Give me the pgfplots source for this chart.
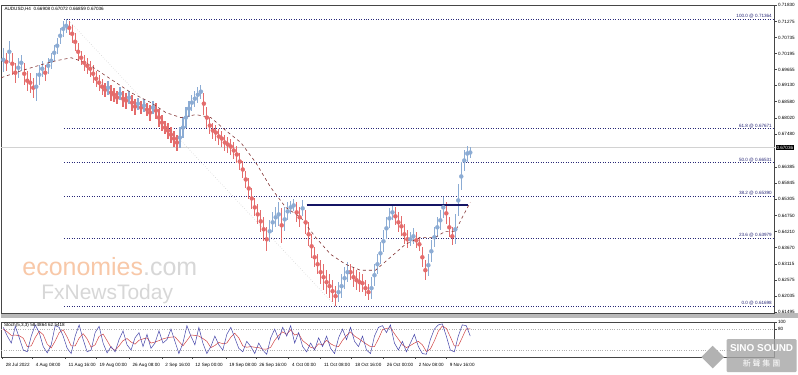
\documentclass[border=0pt]{standalone}
\usepackage{pgfplots}
\pgfplotsset{compat=1.18}
\usepackage{fontspec}
\setmainfont{Liberation Sans}
\newfontfamily\cjk{Noto Sans CJK TC}
\definecolor{bear}{RGB}{228,108,108}
\definecolor{bull}{RGB}{140,172,212}
\definecolor{fibc}{RGB}{40,40,120}
\definecolor{navyl}{RGB}{20,20,100}
\definecolor{mac}{RGB}{130,50,50}
\definecolor{axc}{RGB}{70,70,70}
\definecolor{wmorange}{RGB}{248,200,168}
\definecolor{wmgray}{RGB}{215,215,215}
\definecolor{stmain}{RGB}{70,70,170}
\definecolor{stsig}{RGB}{210,70,70}
\newcommand\tf{\fontsize{4.6}{5.5}\selectfont}
\begin{document}
\begin{tikzpicture}[x=1pt,y=1pt]
\fill[white] (0,0) rectangle (798,372);
% watermark
\node[anchor=base west, inner sep=0, font=\fontsize{25}{25}\selectfont] at (21,99) {\textcolor{wmorange}{economies}\textcolor{wmgray}{.com}};
\node[anchor=base west, inner sep=0, font=\fontsize{21}{21}\selectfont] at (40,75) {\textcolor{wmgray}{FxNewsToday}};
% separator
\fill[gray!55] (0,56) rectangle (798,61);
\begin{axis}[at={(0pt,61pt)}, anchor=south west, scale only axis, width=775pt, height=308.9pt,
  xmin=0, xmax=775, ymin=0.61463, ymax=0.71830, clip=false,
  axis line style={axc, line width=0.6pt},
  xtick=\empty,
  ytick={0.71830,0.71275,0.70735,0.70195,0.69655,0.69130,0.68580,0.68020,0.67480,0.66385,0.65845,0.65305,0.64750,0.64210,0.63670,0.63115,0.62575,0.62035,0.61495},
  yticklabels={0.71830,0.71275,0.70735,0.70195,0.69655,0.69130,0.68580,0.68020,0.67480,0.66385,0.65845,0.65305,0.64750,0.64210,0.63670,0.63115,0.62575,0.62035,0.61495},
  ytick pos=right, yticklabel pos=right,
  tick style={axc, line width=0.4pt}, major tick length=2pt, tick align=outside,
  yticklabel style={font=\tf, text=black, xshift=-2pt},
]
% current price line
\addplot[gray!35, line width=0.4pt] coordinates {(0,0.67036) (775,0.67036)};
% fib diagonal
\addplot[gray!45, dotted, line width=0.5pt] coordinates {(66,0.71364) (335,0.61698)};
% fib levels
\addplot[fibc, dotted, line width=0.5pt] coordinates {(63,0.71364) (775,0.71364)};
\addplot[fibc, dotted, line width=0.5pt] coordinates {(63,0.67671) (775,0.67671)};
\addplot[fibc, dotted, line width=0.5pt] coordinates {(63,0.66531) (775,0.66531)};
\addplot[fibc, dotted, line width=0.5pt] coordinates {(63,0.65390) (775,0.65390)};
\addplot[fibc, dotted, line width=0.5pt] coordinates {(63,0.63979) (775,0.63979)};
\addplot[fibc, dotted, line width=0.5pt] coordinates {(63,0.61698) (775,0.61698)};
\node[anchor=south east, inner sep=0.6pt, font=\tf, text=fibc] at (axis cs:773,0.71364) {100.0 @ 0.71364};
\node[anchor=south east, inner sep=0.6pt, font=\tf, text=fibc] at (axis cs:773,0.67671) {61.8 @ 0.67671};
\node[anchor=south east, inner sep=0.6pt, font=\tf, text=fibc] at (axis cs:773,0.66531) {50.0 @ 0.66531};
\node[anchor=south east, inner sep=0.6pt, font=\tf, text=fibc] at (axis cs:773,0.65390) {38.2 @ 0.65390};
\node[anchor=south east, inner sep=0.6pt, font=\tf, text=fibc] at (axis cs:773,0.63979) {23.6 @ 0.63979};
\node[anchor=south east, inner sep=0.6pt, font=\tf, text=fibc] at (axis cs:773,0.61698) {0.0 @ 0.61698};
% bearish bars
\addplot[bear, only marks, mark=none, error bars/.cd, y dir=both, y explicit, error mark=none,
  error bar style={draw=bear, line width=1.2pt}] coordinates {
(5,0.69920) +- (0,0.0030) (11,0.69853) +- (0,0.0037) (14,0.69551) +- (0,0.0034)
(23,0.69517) +- (0,0.0037) (26,0.69282) +- (0,0.0034) (29,0.69215) +- (0,0.0034)
(32,0.69047) +- (0,0.0034) (44,0.69551) +- (0,0.0027) (68,0.71061) +- (0,0.0023)
(71,0.70860) +- (0,0.0030) (74,0.70591) +- (0,0.0030) (77,0.70256) +- (0,0.0030)
(80,0.70054) +- (0,0.0023) (83,0.69886) +- (0,0.0027) (86,0.69786) +- (0,0.0027)
(89,0.69685) +- (0,0.0027) (92,0.69517) +- (0,0.0030) (95,0.69349) +- (0,0.0027)
(98,0.69215) +- (0,0.0027) (101,0.69081) +- (0,0.0027) (104,0.68980) +- (0,0.0023)
(110,0.68880) +- (0,0.0027) (113,0.68812) +- (0,0.0023) (116,0.68712) +- (0,0.0023)
(122,0.68678) +- (0,0.0027) (125,0.68611) +- (0,0.0027) (131,0.68544) +- (0,0.0027)
(134,0.68410) +- (0,0.0027) (140,0.68376) +- (0,0.0023) (146,0.68309) +- (0,0.0023)
(149,0.68208) +- (0,0.0027) (155,0.68275) +- (0,0.0027) (158,0.68041) +- (0,0.0030)
(161,0.67873) +- (0,0.0027) (164,0.67705) +- (0,0.0023) (167,0.67604) +- (0,0.0027)
(170,0.67470) +- (0,0.0027) (173,0.67336) +- (0,0.0027) (176,0.67202) +- (0,0.0027)
(203,0.68510) +- (0,0.0037) (206,0.68041) +- (0,0.0034) (209,0.67772) +- (0,0.0027)
(212,0.67604) +- (0,0.0027) (215,0.67537) +- (0,0.0027) (218,0.67403) +- (0,0.0027)
(221,0.67336) +- (0,0.0027) (224,0.67202) +- (0,0.0027) (227,0.67134) +- (0,0.0027)
(230,0.67067) +- (0,0.0027) (233,0.66933) +- (0,0.0027) (236,0.66799) +- (0,0.0027)
(239,0.66564) +- (0,0.0030) (242,0.66295) +- (0,0.0030) (245,0.65960) +- (0,0.0030)
(248,0.65658) +- (0,0.0034) (251,0.65322) +- (0,0.0034) (254,0.65020) +- (0,0.0030)
(257,0.64785) +- (0,0.0034) (260,0.64550) +- (0,0.0037) (263,0.64282) +- (0,0.0040)
(266,0.63946) +- (0,0.0040) (281,0.64416) +- (0,0.0060) (296,0.64852) +- (0,0.0034)
(299,0.64685) +- (0,0.0034) (305,0.64517) +- (0,0.0040) (308,0.64114) +- (0,0.0040)
(311,0.63711) +- (0,0.0040) (314,0.63342) +- (0,0.0034) (317,0.63107) +- (0,0.0034)
(320,0.62839) +- (0,0.0040) (323,0.62671) +- (0,0.0044) (326,0.62503) +- (0,0.0040)
(329,0.62369) +- (0,0.0040) (332,0.62201) +- (0,0.0037) (335,0.62033) +- (0,0.0034)
(350,0.62839) +- (0,0.0027) (353,0.62671) +- (0,0.0034) (356,0.62570) +- (0,0.0034)
(359,0.62503) +- (0,0.0034) (362,0.62470) +- (0,0.0030) (365,0.62302) +- (0,0.0027)
(368,0.62168) +- (0,0.0027) (395,0.64718) +- (0,0.0030) (398,0.64517) +- (0,0.0034)
(401,0.64383) +- (0,0.0034) (404,0.64114) +- (0,0.0034) (407,0.63946) +- (0,0.0030)
(416,0.63913) +- (0,0.0027) (419,0.63778) +- (0,0.0023) (422,0.63342) +- (0,0.0034)
(425,0.62906) +- (0,0.0034) (446,0.64819) +- (0,0.0037) (449,0.64349) +- (0,0.0034)
(452,0.64047) +- (0,0.0030)
};
% bullish bars
\addplot[bull, only marks, mark=none, error bars/.cd, y dir=both, y explicit, error mark=none,
  error bar style={draw=bull, line width=1.2pt}] coordinates {
(2,0.69987) +- (0,0.0040) (8,0.70256) +- (0,0.0037) (17,0.69719) +- (0,0.0034)
(20,0.69886) +- (0,0.0027) (35,0.69081) +- (0,0.0047) (38,0.69484) +- (0,0.0034)
(41,0.69685) +- (0,0.0027) (47,0.69786) +- (0,0.0027) (50,0.69954) +- (0,0.0027)
(53,0.70222) +- (0,0.0027) (56,0.70457) +- (0,0.0027) (59,0.70793) +- (0,0.0027)
(62,0.71027) +- (0,0.0027) (65,0.71128) +- (0,0.0023) (107,0.69047) +- (0,0.0023)
(119,0.68846) +- (0,0.0023) (128,0.68712) +- (0,0.0023) (137,0.68510) +- (0,0.0020)
(143,0.68443) +- (0,0.0023) (152,0.68376) +- (0,0.0023) (179,0.67369) +- (0,0.0034)
(182,0.67705) +- (0,0.0034) (185,0.68041) +- (0,0.0034) (188,0.68343) +- (0,0.0027)
(191,0.68544) +- (0,0.0027) (194,0.68678) +- (0,0.0027) (197,0.68812) +- (0,0.0027)
(200,0.68913) +- (0,0.0023) (269,0.64215) +- (0,0.0037) (272,0.64517) +- (0,0.0034)
(275,0.64685) +- (0,0.0034) (278,0.64785) +- (0,0.0040) (284,0.64617) +- (0,0.0040)
(287,0.64886) +- (0,0.0030) (290,0.65020) +- (0,0.0023) (293,0.65087) +- (0,0.0020)
(302,0.64987) +- (0,0.0027) (338,0.62168) +- (0,0.0034) (341,0.62369) +- (0,0.0040)
(344,0.62637) +- (0,0.0037) (347,0.62839) +- (0,0.0034) (371,0.62302) +- (0,0.0037)
(374,0.62738) +- (0,0.0037) (377,0.63107) +- (0,0.0034) (380,0.63476) +- (0,0.0037)
(383,0.63879) +- (0,0.0037) (386,0.64315) +- (0,0.0037) (389,0.64651) +- (0,0.0034)
(392,0.64852) +- (0,0.0027) (410,0.63946) +- (0,0.0023) (413,0.64047) +- (0,0.0027)
(428,0.63074) +- (0,0.0037) (431,0.63544) +- (0,0.0037) (434,0.64013) +- (0,0.0034)
(437,0.64349) +- (0,0.0034) (440,0.64584) +- (0,0.0034) (443,0.65020) +- (0,0.0034)
(455,0.64282) +- (0,0.0050) (458,0.65255) +- (0,0.0054) (461,0.66061) +- (0,0.0047)
(464,0.66598) +- (0,0.0034) (467,0.66832) +- (0,0.0027) (470,0.66866) +- (0,0.0020)
};
% moving average
\addplot[mac, dashed, line width=0.6pt] coordinates {
(0,0.69383) (20,0.69618) (40,0.69819) (55,0.69954) (70,0.70054) (85,0.69886) (100,0.69551)
(115,0.69215) (130,0.68880) (150,0.68544) (165,0.68208) (180,0.68041) (195,0.68141)
(210,0.68041) (225,0.67604) (240,0.67202) (255,0.66530) (270,0.65691) (285,0.65020)
(300,0.64685) (315,0.64013) (330,0.63443) (345,0.63107) (360,0.62906) (375,0.62906)
(390,0.63342) (405,0.63778) (420,0.64013) (435,0.64013) (445,0.64214) (455,0.64214)
(462,0.64685) (470,0.65188)};
% resistance line
\addplot[navyl, line width=1.2pt] coordinates {(306,0.65098) (468,0.65098)};
% current price box
\node[anchor=west, fill=black, text=white, inner sep=0.8pt, font=\tf] at (axis cs:776,0.67036) {0.67036};
\end{axis}
% header
\node[anchor=west, inner sep=0, font=\tf] at (3,366) {AUDUSD,H4\ \ 0.66908 0.67072 0.66859 0.67036};
% stochastic
\begin{axis}[at={(0pt,17pt)}, anchor=south west, scale only axis, width=775pt, height=35pt,
  xmin=0, xmax=775, ymin=0, ymax=100, clip=false,
  axis line style={axc, line width=0.6pt},
  xtick={1,31,64,95,128,161,191,225,255,288,320,351,383,415,446},
  xticklabels={28 Jul 2022,4 Aug 08:00,11 Aug 16:00,19 Aug 00:00,26 Aug 08:00,2 Sep 16:00,12 Sep 00:00,19 Sep 08:00,26 Sep 16:00,4 Oct 00:00,11 Oct 08:00,18 Oct 16:00,26 Oct 00:00,2 Nov 08:00,9 Nov 16:00},
  xtick pos=bottom, xticklabel style={font=\tf, anchor=north west, xshift=0pt, yshift=-1pt},
  ytick={100,80}, yticklabels={100,80}, ytick pos=right, yticklabel pos=right,
  yticklabel style={font=\tf, xshift=-2pt},
  tick style={axc, line width=0.4pt}, major tick length=2pt, tick align=outside,
]
\addplot[gray!60, dotted, line width=0.4pt] coordinates {(0,80) (775,80)};
\addplot[gray!60, dotted, line width=0.4pt] coordinates {(0,20) (775,20)};
\addplot[stsig, line width=0.5pt] coordinates {
(2,80) (6,72) (10,62) (14,63) (18,61) (22,54) (26,30) (30,32) (34,56) (38,74) (42,64) (46,37)
(50,26) (54,46) (58,70) (62,78) (66,57) (70,32) (74,32) (78,54) (82,67) (86,52) (90,28) (94,35)
(98,59) (102,66) (106,47) (110,27) (114,19) (118,32) (122,47) (126,53) (130,43) (134,37) (138,48)
(142,52) (146,55) (150,40) (154,43) (158,47) (162,52) (166,55) (170,57) (174,58) (178,45) (182,32)
(186,47) (190,63) (194,62) (198,60) (202,53) (206,45) (210,27) (214,33) (218,42) (222,38) (226,40)
(230,57) (234,68) (238,55) (242,32) (246,28) (250,30) (254,28) (258,27) (262,23) (266,23) (270,28)
(274,48) (278,62) (282,72) (286,65) (290,78) (294,63) (298,67) (302,47) (306,38) (310,28) (314,25)
(318,38) (322,35) (326,48) (330,38) (334,32) (338,30) (342,48) (346,62) (350,72) (354,60) (358,53)
(362,45) (366,37) (370,30) (374,30) (378,52) (382,78) (386,82) (390,84) (394,67) (398,51) (402,35)
(406,27) (410,33) (414,40) (418,45) (422,35) (426,16) (430,23) (434,46) (438,74) (442,89) (446,82)
(450,58) (454,32) (458,32) (462,56) (466,81) (470,81)};
\addplot[stmain, line width=0.5pt] coordinates {
(2,85) (6,60) (10,40) (14,88) (18,55) (22,20) (26,15) (30,60) (34,92) (38,70) (42,30) (46,12)
(50,35) (54,90) (58,85) (62,60) (66,25) (70,10) (74,60) (78,92) (82,50) (86,15) (90,20) (94,70)
(98,88) (102,40) (106,12) (110,30) (114,15) (118,50) (122,75) (126,35) (130,20) (134,55) (138,70)
(142,30) (146,65) (150,25) (154,40) (158,75) (162,40) (166,50) (170,80) (174,45) (178,10) (182,40)
(186,90) (190,60) (194,35) (198,85) (202,40) (206,10) (210,30) (214,60) (218,35) (222,20) (226,65)
(230,85) (234,55) (238,25) (242,15) (246,45) (250,30) (254,10) (258,40) (262,20) (266,8) (270,55)
(274,80) (278,50) (282,85) (286,60) (290,90) (294,40) (298,70) (302,30) (306,15) (310,40) (314,20)
(318,55) (322,30) (326,60) (330,25) (334,10) (338,55) (342,80) (346,50) (350,85) (354,45) (358,30)
(362,60) (366,20) (370,10) (374,60) (378,85) (382,90) (386,70) (390,92) (394,40) (398,20) (402,45)
(406,15) (410,40) (414,65) (418,30) (422,10) (426,8) (430,50) (434,80) (438,92) (442,95) (446,60)
(450,20) (454,15) (458,60) (462,92) (466,90) (470,60)};
\node[anchor=north west, inner sep=0.5pt, font=\tf] at (axis cs:2,100) {Stoch(5,3,3) 58.4864 62.5418};
\end{axis}
% logo
\fill[gray!70, opacity=0.8, rounded corners=1pt] (727,2) rectangle (797,35);
\node[anchor=center, font=\bfseries\fontsize{10}{10}\selectfont, text=white] at (762,26) {SINO SOUND};
\node[anchor=center, font=\cjk\fontsize{8}{8}\selectfont, text=white] at (762,11) {新\ 聲\ 集\ 團};
\fill[gray!60, rotate around={45:(713,17)}] (705,9) rectangle (721,25);
\end{tikzpicture}
\end{document}
